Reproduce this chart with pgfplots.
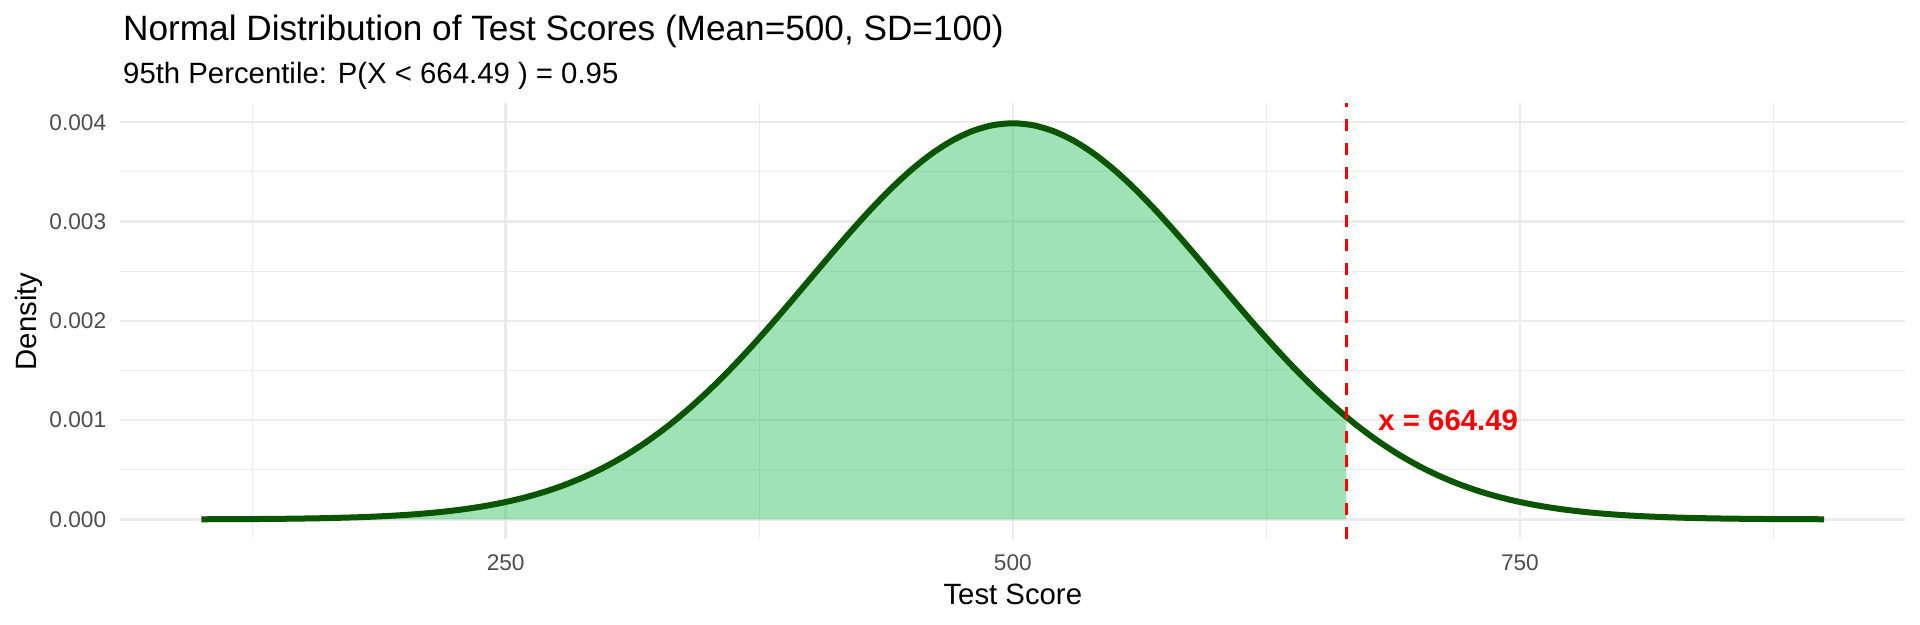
\documentclass[border=0pt]{standalone}
\usepackage{fontspec}
\setmainfont{Liberation Sans}
\usepackage{pgfplots}
\usepackage{pgfplotstable}
\pgfplotsset{compat=1.18}

\definecolor{curvegreen}{RGB}{10,85,0}
\definecolor{fillgreen}{RGB}{61,197,109}
\definecolor{gridgray}{RGB}{235,235,235}
\definecolor{tickgray}{RGB}{77,77,77}

\pgfplotstableread{
x y
100 1.338e-6
110 1.987e-6
120 2.92e-6
130 4.25e-6
140 6.12e-6
150 8.73e-6
160 1.232e-5
170 1.723e-5
180 2.384e-5
190 3.267e-5
200 4.432e-5
210 5.953e-5
220 7.915e-5
230 1.0421e-4
240 1.3583e-4
250 1.7528e-4
260 2.2395e-4
270 2.8327e-4
280 3.5475e-4
290 4.3984e-4
300 5.3991e-4
310 6.5616e-4
320 7.8950e-4
330 9.4049e-4
340 1.10921e-3
350 1.29518e-3
360 1.49727e-3
370 1.71369e-3
380 1.94186e-3
390 2.17852e-3
400 2.41971e-3
410 2.66085e-3
420 2.89692e-3
430 3.12254e-3
440 3.33225e-3
450 3.52065e-3
460 3.68270e-3
470 3.81388e-3
480 3.91043e-3
490 3.96953e-3
500 3.98942e-3
510 3.96953e-3
520 3.91043e-3
530 3.81388e-3
540 3.68270e-3
550 3.52065e-3
560 3.33225e-3
570 3.12254e-3
580 2.89692e-3
590 2.66085e-3
600 2.41971e-3
610 2.17852e-3
620 1.94186e-3
630 1.71369e-3
640 1.49727e-3
650 1.29518e-3
660 1.10921e-3
670 9.4049e-4
680 7.8950e-4
690 6.5616e-4
700 5.3991e-4
710 4.3984e-4
720 3.5475e-4
730 2.8327e-4
740 2.2395e-4
750 1.7528e-4
760 1.3583e-4
770 1.0421e-4
780 7.915e-5
790 5.953e-5
800 4.432e-5
810 3.267e-5
820 2.384e-5
830 1.723e-5
840 1.232e-5
850 8.73e-6
860 6.12e-6
870 4.25e-6
880 2.92e-6
890 1.987e-6
900 1.338e-6
}\curvedata

\pgfplotstableread{
x y
100 1.338e-6
110 1.987e-6
120 2.92e-6
130 4.25e-6
140 6.12e-6
150 8.73e-6
160 1.232e-5
170 1.723e-5
180 2.384e-5
190 3.267e-5
200 4.432e-5
210 5.953e-5
220 7.915e-5
230 1.0421e-4
240 1.3583e-4
250 1.7528e-4
260 2.2395e-4
270 2.8327e-4
280 3.5475e-4
290 4.3984e-4
300 5.3991e-4
310 6.5616e-4
320 7.8950e-4
330 9.4049e-4
340 1.10921e-3
350 1.29518e-3
360 1.49727e-3
370 1.71369e-3
380 1.94186e-3
390 2.17852e-3
400 2.41971e-3
410 2.66085e-3
420 2.89692e-3
430 3.12254e-3
440 3.33225e-3
450 3.52065e-3
460 3.68270e-3
470 3.81388e-3
480 3.91043e-3
490 3.96953e-3
500 3.98942e-3
510 3.96953e-3
520 3.91043e-3
530 3.81388e-3
540 3.68270e-3
550 3.52065e-3
560 3.33225e-3
570 3.12254e-3
580 2.89692e-3
590 2.66085e-3
600 2.41971e-3
610 2.17852e-3
620 1.94186e-3
630 1.71369e-3
640 1.49727e-3
650 1.29518e-3
660 1.10921e-3
664.49 1.03136e-3
}\filldata

\begin{document}
\begin{tikzpicture}
\path[use as bounding box] (-45.1pt,-31.8pt) rectangle (674.9pt,202.2pt);
\begin{axis}[
  at={(0,0)}, anchor=south west,
  scale only axis,
  width=669.4pt, height=163.4pt,
  xmin=60, xmax=940,
  ymin=-0.0001995, ymax=0.0041889,
  scaled y ticks=false,
  scaled x ticks=false,
  xtick={250,500,750},
  xticklabels={250,500,750},
  minor xtick={125,375,625,875},
  ytick={0,0.001,0.002,0.003,0.004},
  yticklabels={0.000,0.001,0.002,0.003,0.004},
  minor ytick={0.0005,0.0015,0.0025,0.0035},
  grid=both,
  major grid style={draw=gridgray, line width=0.9pt},
  minor grid style={draw=gridgray, line width=0.45pt},
  axis line style={draw=none},
  major tick length=0pt, minor tick length=0pt,
  tick style={draw=none},
  xticklabel style={font=\fontsize{8.5}{10}\selectfont, text=tickgray, anchor=north, inner sep=0pt, yshift=-5.5pt},
  yticklabel style={font=\fontsize{8.5}{10}\selectfont, text=tickgray, anchor=east, inner sep=0pt, xshift=-5.1pt},
  clip=true,
]
\addplot[draw=none, fill=fillgreen, fill opacity=0.5] table[x=x,y=y]{\filldata} \closedcycle;
\addplot[color=curvegreen, line width=2.25pt, smooth] table[x=x,y=y]{\curvedata};
\addplot[color=red, line width=1.1pt, dash pattern=on 4.5pt off 4.5pt] coordinates {(664.49,-0.0002) (664.49,0.0042)};
\node[anchor=west, inner sep=0pt, text=red, font=\fontsize{11}{13}\selectfont\bfseries] at (axis cs:680,0.001) {x = 664.49};
\end{axis}
\node[anchor=base west, inner sep=0pt, font=\fontsize{13.2}{15}\selectfont] at (0.9pt,186.9pt) {Normal Distribution of Test Scores (Mean=500, SD=100)};
\node[anchor=base west, inner sep=0pt, font=\fontsize{11}{13}\selectfont] at (0.9pt,171.0pt) {95th Percentile: P(X < 664.49 ) = 0.95};
\node[anchor=base, inner sep=0pt, font=\fontsize{11}{13}\selectfont] at (334.7pt,-24.3pt) {Test Score};
\node[anchor=base, rotate=90, inner sep=0pt, font=\fontsize{11}{13}\selectfont] at (-31.6pt,81.7pt) {Density};
\end{tikzpicture}
\end{document}
